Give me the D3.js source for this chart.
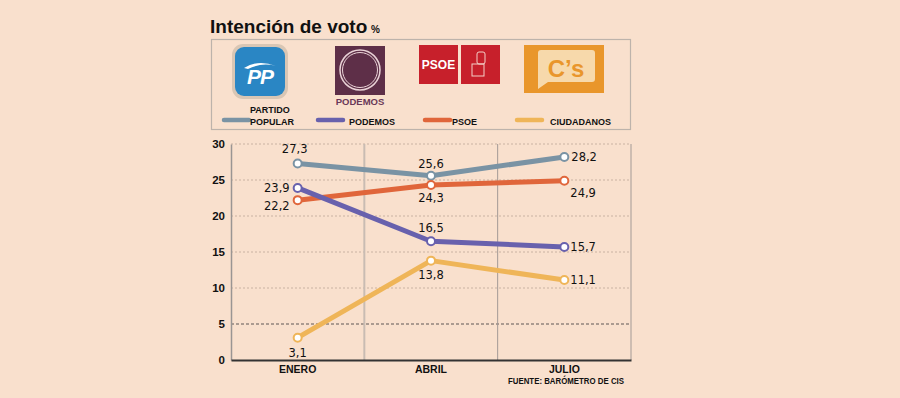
<!DOCTYPE html>
<html><head><meta charset="utf-8">
<script src="https://cdn.jsdelivr.net/npm/d3@7"></script>
<style>
html,body{margin:0;padding:0;background:#f9e0cd;}
svg{display:block;}
.cond{font-family:"Liberation Sans Narrow","Arial Narrow","Liberation Sans",sans-serif;font-weight:bold;}
.num{font-family:"DejaVu Sans",Verdana,sans-serif;font-size:11.5px;fill:#111;}
</style></head>
<body>
<svg id="c" width="900" height="398"></svg>
<script>
const months = ["ENERO", "ABRIL", "JULIO"];
const yTicks = [0, 5, 10, 15, 20, 25, 30];
const parties = ["PARTIDO POPULAR", "PODEMOS", "PSOE", "CIUDADANOS"];
const ppValues = [27.3, 25.6, 28.2];
const podemosValues = [23.9, 16.5, 15.7];
const psoeValues = [22.2, 24.3, 24.9];
const csValues = [3.1, 13.8, 11.1];
const colors = ["#7a93a4", "#6861ad", "#e0663b", "#efb558"];
const labelPos = [
  [[-3,-10,"middle"],[0,-8,"middle"],[7,4,"start"]],
  [[-8,4,"end"],[0,-9,"middle"],[6,4,"start"]],
  [[-8,10,"end"],[0,17,"middle"],[6,16,"start"]],
  [[0,19,"middle"],[0,18,"middle"],[6,4,"start"]]
];
const series = [ppValues, podemosValues, psoeValues, csValues];

const svg = d3.select("#c");
svg.append("rect").attr("width",900).attr("height",398).attr("fill","#f9e0cd");

// Title
svg.append("text").attr("class","cond").attr("x",210).attr("y",33).attr("font-size",19).attr("fill","#111")
  .text("Intención de voto");
svg.append("text").attr("class","cond").attr("x",371).attr("y",33).attr("font-size",10).attr("fill","#111").text("%");

// Legend box
svg.append("rect").attr("x",211.5).attr("y",39.5).attr("width",419).attr("height",90)
  .attr("fill","none").attr("stroke","#bdb3ab").attr("stroke-width",1.2);

// Logos
const lg = svg.append("g");
lg.append("rect").attr("x",232).attr("y",44).attr("width",56).attr("height",55).attr("rx",11).attr("fill","#d9c6b4");
lg.append("rect").attr("x",235).attr("y",47).attr("width",50).attr("height",49).attr("rx",9).attr("fill","#2a86c4");
lg.append("path").attr("d","M244,68 Q258,59 276,66 Q262,62 248,69 Z").attr("fill","#fff");
lg.append("text").attr("x",260).attr("y",84).attr("text-anchor","middle").attr("font-family","Liberation Sans,Arial,sans-serif")
  .attr("font-weight","bold").attr("font-style","italic").attr("font-size",21).attr("fill","#fff").attr("letter-spacing",-1).text("PP");
lg.append("rect").attr("x",335).attr("y",46).attr("width",50).attr("height",49).attr("fill","#5e2f48");
lg.append("circle").attr("cx",360).attr("cy",70).attr("r",20).attr("fill","none").attr("stroke","#e9d2d6").attr("stroke-width",1.5);
lg.append("circle").attr("cx",360).attr("cy",70).attr("r",17.5).attr("fill","none").attr("stroke","#e9d2d6").attr("stroke-width",1);
lg.append("text").attr("x",360).attr("y",105).attr("text-anchor","middle").attr("font-family","Liberation Sans,Arial,sans-serif")
  .attr("font-weight","bold").attr("font-size",9.5).attr("fill","#6a3858").text("PODEMOS");
lg.append("rect").attr("x",419).attr("y",45).attr("width",39).attr("height",39).attr("fill","#c7202b");
lg.append("rect").attr("x",461).attr("y",45).attr("width",39).attr("height",39).attr("fill","#c7202b");
lg.append("text").attr("x",438.5).attr("y",69).attr("text-anchor","middle").attr("font-family","Liberation Sans,Arial,sans-serif")
  .attr("font-weight","bold").attr("font-size",12).attr("fill","#fff").text("PSOE");
lg.append("rect").attr("x",477).attr("y",52).attr("width",8).attr("height",12).attr("rx",2).attr("fill","none").attr("stroke","#f4d0c8").attr("stroke-width",1);
lg.append("rect").attr("x",472).attr("y",64).attr("width",12).attr("height",12).attr("fill","none").attr("stroke","#f4d0c8").attr("stroke-width",1);
lg.append("rect").attr("x",524).attr("y",45).attr("width",80).attr("height",48).attr("fill","#e9962b");
lg.append("path").attr("d","M537,50 H592 Q595,50 595,53 V79 Q595,82 592,82 H548 L538,89 V53 Q538,50 541,50 Z").attr("fill","#f7d9ab");
lg.append("text").attr("x",566).attr("y",77).attr("text-anchor","middle").attr("font-family","Liberation Sans,Arial,sans-serif")
  .attr("font-weight","bold").attr("font-size",24).attr("fill","#e9962b").text("C’s");

// Legend entries
const legX = [224, 318, 425, 517];
const legTX = [250, 349, 452, 550];
parties.forEach((p,i)=>{
  svg.append("line").attr("x1",legX[i]).attr("x2",legX[i]+25).attr("y1",120).attr("y2",120)
    .attr("stroke",colors[i]).attr("stroke-width",4.5).attr("stroke-linecap","round");
  const tt = svg.append("text").attr("class","cond").attr("font-size",9).attr("fill","#111").attr("x",legTX[i]).attr("y",125);
  if(i===0){
    tt.append("tspan").attr("x",legTX[i]).attr("y",113).text("PARTIDO");
    tt.append("tspan").attr("x",legTX[i]).attr("y",125).text("POPULAR");
  } else tt.text(p);
});

// Scales
const x = d3.scaleBand().domain(months).range([231,631]);
const y = d3.scaleLinear().domain([0,30]).range([360,144]);
const cx = m => x(m) + x.bandwidth()/2;

yTicks.filter(v=>v>0).forEach(v=>{
  svg.append("line").attr("x1",231).attr("x2",631).attr("y1",y(v)).attr("y2",y(v))
    .attr("stroke", v===5 ? "#5e5654" : "#c9b2a2").attr("stroke-width",1)
    .attr("stroke-dasharray", v===5 ? "3,2" : "2,2");
});
svg.append("line").attr("x1",x("ABRIL")).attr("x2",x("ABRIL")).attr("y1",144).attr("y2",360).attr("stroke","#c9bcb3").attr("stroke-width",2);
svg.append("line").attr("x1",x("JULIO")).attr("x2",x("JULIO")).attr("y1",144).attr("y2",360).attr("stroke","#a39a96").attr("stroke-width",1);
svg.append("line").attr("x1",631).attr("x2",631).attr("y1",144).attr("y2",360).attr("stroke","#a39a96").attr("stroke-width",1);

const ya = svg.append("g").attr("transform","translate(231,0)")
  .call(d3.axisLeft(y).tickValues(yTicks).tickSize(0).tickPadding(6).tickFormat(d3.format("d")));
ya.select(".domain").attr("stroke","#9a9593").attr("stroke-width",1.5);
ya.selectAll("text").attr("class","cond").attr("font-size",11.5).attr("fill","#111");

const xa = svg.append("g").attr("transform","translate(0,360)")
  .call(d3.axisBottom(x).tickSize(0).tickPadding(6));
xa.select(".domain").attr("stroke","#333").attr("stroke-width",2);
xa.selectAll("text").attr("class","cond").attr("font-size",10.5).attr("fill","#111");

svg.append("text").attr("class","cond").attr("x",508).attr("y",384)
  .attr("font-size",9).attr("fill","#111").attr("textLength",116).attr("lengthAdjust","spacingAndGlyphs").text("FUENTE: BARÓMETRO DE CIS");

const line = d3.line().x((d,i)=>cx(months[i])).y(d=>y(d));
const order = [0,2,1,3];
order.forEach(i=>{
  svg.append("path").datum(series[i]).attr("d",line).attr("fill","none")
    .attr("stroke",colors[i]).attr("stroke-width",5).attr("stroke-linecap","round").attr("stroke-linejoin","round");
});
order.forEach(i=>{
  series[i].forEach((v,j)=>{
    svg.append("circle").attr("cx",cx(months[j])).attr("cy",y(v)).attr("r",4)
      .attr("fill","#fff").attr("stroke",colors[i]).attr("stroke-width",2);
  });
});
const fmt = v => d3.format(".1f")(v).replace(".",",");
series.forEach((s,i)=>{
  s.forEach((v,j)=>{
    const [dx,dy,an] = labelPos[i][j];
    svg.append("text").attr("class","num").attr("x",cx(months[j])+dx).attr("y",y(v)+dy)
      .attr("text-anchor",an).text(fmt(v));
  });
});
</script>
</body></html>
